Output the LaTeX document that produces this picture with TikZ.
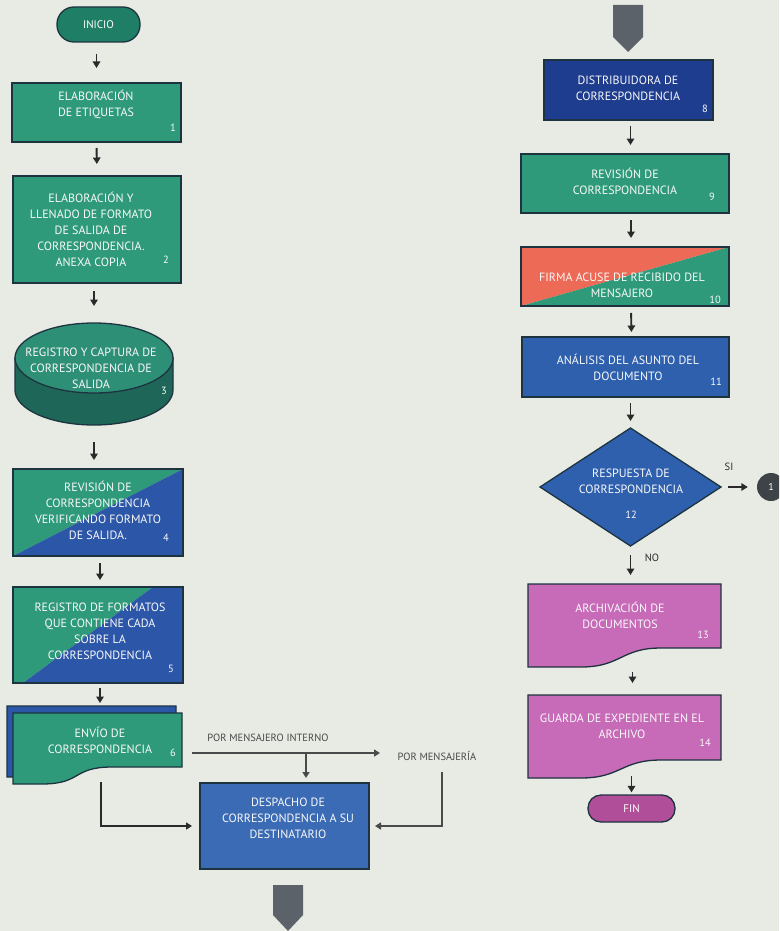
\documentclass[tikz,border=0pt]{standalone}
\usepackage{fontspec}
\setmainfont{PT Sans}
\usetikzlibrary{arrows.meta,calc}
\definecolor{cBg}{HTML}{E8EBE4}
\definecolor{cTeal}{HTML}{2E9A79}
\definecolor{cTealDk}{HTML}{1F7F66}
\definecolor{cBord}{HTML}{1D3440}
\definecolor{cBlue}{HTML}{2C56A8}
\definecolor{cBlueDk}{HTML}{1F3D8E}
\definecolor{cBlueMd}{HTML}{2E60AE}
\definecolor{cBlueLt}{HTML}{3B6BB4}
\definecolor{cSalmon}{HTML}{EC6A56}
\definecolor{cMag}{HTML}{C76AB8}
\definecolor{cMagDk}{HTML}{B14E99}
\definecolor{cGray}{HTML}{5C6269}
\definecolor{cCirc}{HTML}{3E4348}
\definecolor{cArr}{HTML}{2A2A2A}
\definecolor{cLine}{HTML}{4A4A4A}
\definecolor{cCylTop}{HTML}{2E8F77}
\definecolor{cCylSide}{HTML}{1E6657}
\begin{document}
\begin{tikzpicture}[x=1pt,y=-1pt,
  box/.style={draw=cBord, line width=1.3pt, inner sep=0pt, outer sep=0pt},
  ghost/.style={inner sep=0pt, outer sep=0pt},
  border/.style={draw=cBord, line width=1.3pt},
  txt/.style={text=white!95!gray, font=\fontsize{12}{16}\selectfont, align=center, inner sep=0pt},
  num/.style={text=white!95!gray, font=\fontsize{10.5}{12}\selectfont, inner sep=0pt},
  lbl/.style={text=cLine, font=\fontsize{10.5}{12}\selectfont, inner sep=0pt},
  pill/.style={draw=cBord, line width=1.3pt, text=white, font=\fontsize{11}{12}\selectfont, inner sep=0pt},
  arr/.style={draw=cArr, line width=1.9pt, -{Triangle[width=7.5pt,length=6.5pt]}},
  conn/.style={draw=cLine, line width=1.7pt, -{Triangle[width=7pt,length=6pt]}}
]
\clip (0,0) rectangle (779,931);
\fill[cBg] (0,0) rectangle (779,931);

% ---------------- left column ----------------
\node[pill, fill=cTealDk, rounded corners=17pt, minimum width=83pt, minimum height=35pt] (inicio) at (98.5,24.5) {INICIO};

\node[box, fill=cTeal, minimum width=169pt, minimum height=59pt] (b1) at (96.5,112.5) {};
\node[txt] (t1) at (96,104) {ELABORACIÓN\\DE ETIQUETAS};
\node[num] (n1) at (173,128) {1};

\node[box, fill=cTeal, minimum width=168pt, minimum height=107pt] (b2) at (97,229.5) {};
\node[txt] (t2) at (91,229) {ELABORACIÓN Y\\LLENADO DE FORMATO\\DE SALIDA DE\\CORRESPONDENCIA.\\ANEXA COPIA};
\node[num] (n2) at (166,260) {2};

% cylinder 3
\node[ghost, minimum width=158pt, minimum height=102pt] (b3) at (94,374) {};
\filldraw[fill=cCylSide, border] ([yshift=-35pt]b3.north west) -- ([yshift=35pt]b3.south west)
  arc[start angle=180, end angle=360, x radius=79pt, y radius=35pt] -- ([yshift=-35pt]b3.north east) -- cycle;
\filldraw[fill=cCylTop, border] ([yshift=-35pt]b3.north) ellipse[x radius=79pt, y radius=35pt];
\node[txt] (t3) at (91,368) {REGISTRO Y CAPTURA DE\\CORRESPONDENCIA DE\\SALIDA};
\node[num] (n3) at (164,391) {3};

% box 4 (split)
\node[ghost, minimum width=170pt, minimum height=87pt] (b4) at (98,512.5) {};
\fill[cTeal] (b4.south west) -- (b4.north west) -- (b4.north east) -- cycle;
\fill[cBlue] (b4.south west) -- (b4.north east) -- (b4.south east) -- cycle;
\draw[border] (b4.south west) rectangle (b4.north east);
\node[txt] (t4) at (98,510) {REVISIÓN DE\\CORRESPONDENCIA\\VERIFICANDO FORMATO\\DE SALIDA.};
\node[num] (n4) at (166,538) {4};

% box 5 (split)
\node[ghost, minimum width=170pt, minimum height=96pt] (b5) at (98,635) {};
\fill[cTeal] (b5.south west) -- (b5.north west) -- ([xshift=-30pt]b5.north east) -- ([xshift=10pt]b5.south west) -- cycle;
\fill[cBlue] ([xshift=10pt]b5.south west) -- ([xshift=-30pt]b5.north east) -- (b5.north east) -- (b5.south east) -- cycle;
\draw[border] (b5.south west) rectangle (b5.north east);
\node[txt] (t5) at (100,631) {REGISTRO DE FORMATOS\\QUE CONTIENE CADA\\SOBRE LA\\CORRESPONDENCIA};
\node[num] (n5) at (171,669) {5};

% box 6 (multi-document)
\node[ghost, minimum width=169pt, minimum height=54pt] (b6b) at (91.5,733) {};
\filldraw[fill=cBlue, border] (b6b.south west) -- (b6b.north west) -- (b6b.north east) -- (b6b.south east)
  -- ++(-70,0) .. controls +(-40,0) and +(40,0) .. ++(-70,17) -- ([yshift=-17pt]b6b.south west) -- cycle;
\node[ghost, minimum width=169pt, minimum height=54pt] (b6) at (97.5,740) {};
\filldraw[fill=cTeal, border] (b6.south west) -- (b6.north west) -- (b6.north east) -- (b6.south east)
  -- ++(-70,0) .. controls +(-40,0) and +(40,0) .. ++(-70,17) -- ([yshift=-17pt]b6.south west) -- cycle;
\node[txt] (t6) at (100,740) {ENVÍO DE\\CORRESPONDENCIA};
\node[num] (n6) at (173,753) {6};

% box 7
\node[box, fill=cBlueLt, minimum width=169pt, minimum height=86pt] (b7) at (284.5,826) {};
\node[txt] (t7) at (288,818) {DESPACHO DE\\CORRESPONDENCIA A SU\\DESTINATARIO};

% labels and routing
\node[lbl] (lm1) at (268,738) {POR MENSAJERO INTERNO};
\node[lbl] (lm2) at (437,756) {POR MENSAJERÍA};
\coordinate (hEnd) at (380,753);
\coordinate (jn) at (306,753);
\coordinate (cL) at (101,782);
\coordinate (cR) at (442,772);
\draw[conn, shorten <=10pt] ([yshift=-13pt]b6.east) -- (hEnd);
\draw[conn, shorten >=5pt] (jn) -- (jn |- b7.north);
\draw[conn, draw=cArr, shorten >=8pt] (cL) |- (b7.west);
\draw[conn, shorten >=6pt] (cR) |- (b7.east);

% off-page connector bottom
\node[ghost, minimum width=30pt, minimum height=46pt] (off2) at (288,908) {};
\fill[cGray] (off2.north west) -- (off2.north east) -- ([yshift=16pt]off2.south east) -- (off2.south) -- ([yshift=16pt]off2.south west) -- cycle;

% left arrows
\draw[arr, shorten <=11pt, shorten >=15pt] (b1.north |- inicio.south) -- (b1.north);
\draw[arr, shorten <=6pt, shorten >=12pt] (b1.south) -- (b2.north);
\draw[arr, shorten <=8pt, shorten >=17pt] (b3.north |- b2.south) -- (b3.north);
\draw[arr, shorten <=17pt, shorten >=9pt] (b3.south) -- (b3.south |- b4.north);
\draw[arr, shorten <=7pt, shorten >=7pt] ([xshift=2pt]b4.south) -- ([xshift=2pt]b5.north);
\draw[arr, shorten <=5pt, shorten >=3pt] ([xshift=2pt]b5.south) -- ([xshift=2pt]b5.south |- b6b.north);

% ---------------- right column ----------------
\node[ghost, minimum width=30pt, minimum height=47pt] (off1) at (628,28.5) {};
\fill[cGray] (off1.north west) -- (off1.north east) -- ([yshift=15pt]off1.south east) -- (off1.south) -- ([yshift=15pt]off1.south west) -- cycle;

\node[box, fill=cBlueDk, minimum width=169pt, minimum height=60pt] (b8) at (628.5,90) {};
\node[txt] (t8) at (628,88) {DISTRIBUIDORA DE\\CORRESPONDENCIA};
\node[num] (n8) at (705,109) {8};

\node[box, fill=cTeal, minimum width=208pt, minimum height=59pt] (b9) at (625,183.5) {};
\node[txt] (t9) at (625,181) {REVISIÓN DE\\CORRESPONDENCIA};
\node[num] (n9) at (712,197) {9};

\node[ghost, minimum width=208pt, minimum height=59pt] (b10) at (625,276.5) {};
\fill[cSalmon] (b10.south west) -- (b10.north west) -- (b10.north east) -- cycle;
\fill[cTeal] (b10.south west) -- (b10.north east) -- (b10.south east) -- cycle;
\draw[border] (b10.south west) rectangle (b10.north east);
\node[txt] (t10) at (622,285) {FIRMA ACUSE DE RECIBIDO DEL\\MENSAJERO};
\node[num] (n10) at (715,300) {10};

\node[box, fill=cBlueMd, minimum width=207pt, minimum height=60pt] (b11) at (625.5,367) {};
\node[txt] (t11) at (628,367) {ANÁLISIS DEL ASUNTO DEL\\DOCUMENTO};
\node[num] (n11) at (716,382) {11};

\node[ghost, minimum width=181pt, minimum height=118pt] (d12) at (630.5,487) {};
\filldraw[fill=cBlueMd, border] (d12.north) -- (d12.east) -- (d12.south) -- (d12.west) -- cycle;
\node[txt] (t12) at (631,481) {RESPUESTA DE\\CORRESPONDENCIA};
\node[num] (n12) at (631,515) {12};
\node[lbl, text=cArr] (si) at (729,467) {SI};
\node[lbl, text=cArr] (no) at (652,558) {NO};
\node[circle, fill=cCirc, minimum size=28pt, inner sep=0pt, text=white, font=\fontsize{10}{12}\selectfont] (circ) at (771,487) {1};
\draw[arr, shorten <=7pt, shorten >=9pt] (d12.east) -- (circ.west);

\node[ghost, minimum width=193pt, minimum height=64pt] (b13) at (624.5,616) {};
\filldraw[fill=cMag, border] (b13.south west) -- (b13.north west) -- (b13.north east) -- (b13.south east)
  -- ++(-60,0) .. controls +(-40,0) and +(40,0) .. ++(-80,19) -- ([yshift=-19pt]b13.south west) -- cycle;
\node[txt] (t13) at (620,615) {ARCHIVACIÓN DE\\DOCUMENTOS};
\node[num] (n13) at (703,635) {13};

\node[ghost, minimum width=193pt, minimum height=65pt] (b14) at (624.5,727.5) {};
\filldraw[fill=cMag, border] (b14.south west) -- (b14.north west) -- (b14.north east) -- (b14.south east)
  -- ++(-60,0) .. controls +(-40,0) and +(40,0) .. ++(-80,18) -- ([yshift=-18pt]b14.south west) -- cycle;
\node[txt] (t14) at (622,726) {GUARDA DE EXPEDIENTE EN EL\\ARCHIVO};
\node[num] (n14) at (705,743) {14};

\node[pill, fill=cMagDk, rounded corners=13pt, minimum width=87pt, minimum height=27pt] (fin) at (631.5,808.5) {FIN};

% right arrows
\draw[arr, shorten <=6pt, shorten >=9pt] ([xshift=2pt]b8.south) -- ([xshift=2pt]b8.south |- b9.north);
\draw[arr, shorten <=7pt, shorten >=9pt] ([xshift=6pt]b9.south) -- ([xshift=6pt]b10.north);
\draw[arr, shorten <=7pt, shorten >=5pt] ([xshift=6pt]b10.south) -- ([xshift=6pt]b11.north);
\draw[arr, shorten <=6pt, shorten >=7pt] (d12.north |- b11.south) -- (d12.north);
\draw[arr, shorten <=9pt, shorten >=9pt] (d12.south) -- (d12.south |- b13.north);
\draw[arr, shorten <=24pt, shorten >=12pt] ([xshift=8pt]b13.south) -- ([xshift=8pt]b14.north);
\draw[arr, shorten <=16pt, shorten >=2pt] ([xshift=7pt]b14.south) -- ([xshift=7pt]b14.south |- fin.north);
\end{tikzpicture}
\end{document}
